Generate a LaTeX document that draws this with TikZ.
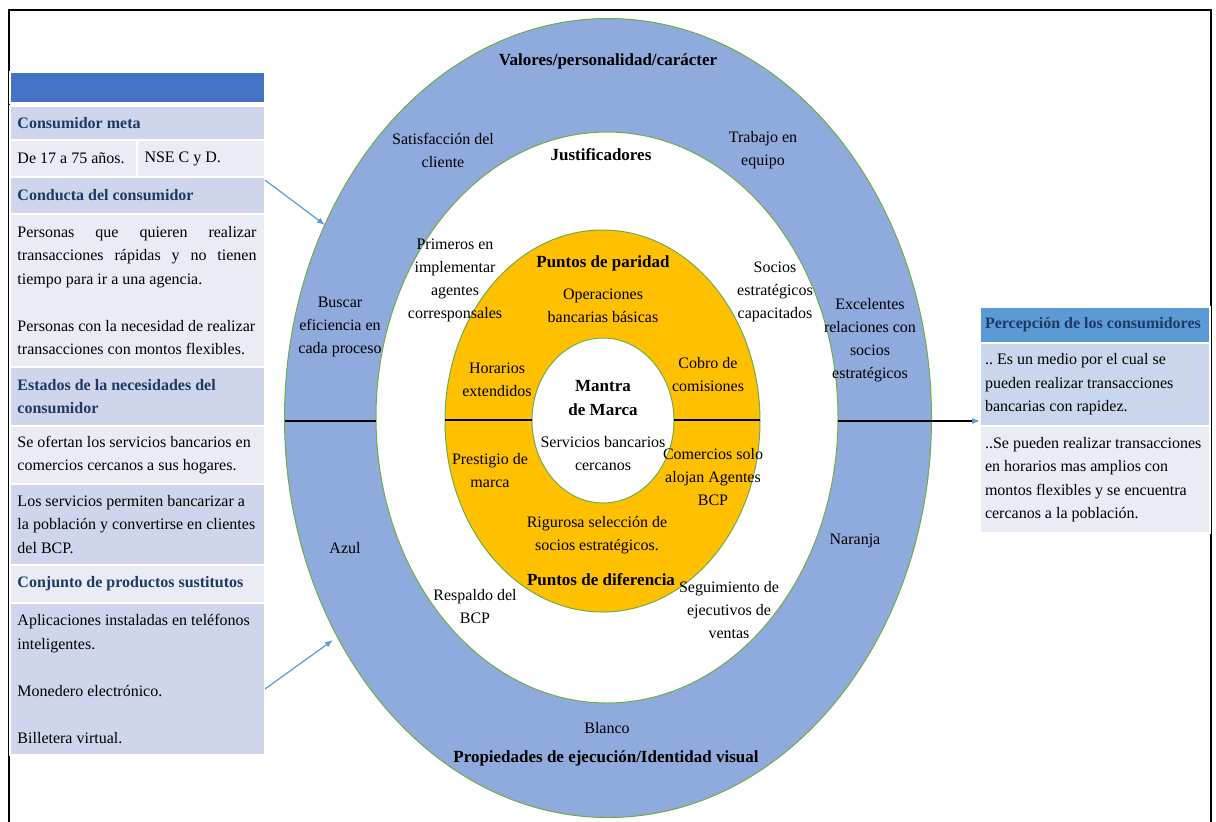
\documentclass[tikz,border=0pt]{standalone}
\usepackage{fontspec}
\setmainfont{Liberation Serif}
\usetikzlibrary{positioning,arrows.meta}
\definecolor{barblue}{HTML}{4472C4}
\definecolor{lavdark}{HTML}{CFD5EA}
\definecolor{lavlight}{HTML}{E9EBF5}
\definecolor{navytext}{HTML}{1F3864}
\definecolor{percblue}{HTML}{5B9BD5}
\definecolor{percpale}{HTML}{CAD6EC}
\definecolor{ringblue}{HTML}{8FAADC}
\definecolor{ringedge}{HTML}{70AD47}
\definecolor{paritygold}{HTML}{FFC000}
\definecolor{linkblue}{HTML}{5B9BD5}
\tikzstyle{panelrow} = [anchor=north west, minimum width=127.5pt, text width=120pt,
  inner xsep=3.75pt, inner ysep=0pt, outer sep=0pt, align=left, draw=white, line width=0.6pt,
  font=\fontsize{8}{11.75}\selectfont,
  execute at begin node={\spaceskip=0pt\xspaceskip=0pt\hyphenpenalty=10000\frenchspacing\relax}]
\tikzstyle{rowdark} = [panelrow, fill=lavdark]
\tikzstyle{rowlight} = [panelrow, fill=lavlight]
\tikzstyle{rowtitle} = [text=navytext, font=\fontsize{8}{11.75}\selectfont\bfseries]
\tikzstyle{percrow} = [panelrow, minimum width=115pt, text width=110pt, inner xsep=2.5pt]
\tikzstyle{ringtext} = [align=center, inner sep=0pt, font=\fontsize{8}{11.5}\selectfont]
\tikzstyle{ringtitle} = [ringtext, font=\fontsize{8.5}{11.75}\selectfont\bfseries]
\tikzstyle{ringline} = [draw=ringedge, line width=0.5pt]
\tikzstyle{linkarrow} = [draw=linkblue, line width=0.6pt, -{Latex[length=4pt,width=3pt]}]
\newcommand{\jline}[1]{\makebox[119.5pt][s]{#1}}

\begin{document}
\begin{tikzpicture}[x=0.5pt,y=-0.5pt]
    \useasboundingbox (0,0) rectangle (1216,821);
    \draw[line width=1pt] (9,830) -- (9,10) -- (1211,10) -- (1211,830);

    % anillos
    \draw[ringline, fill=ringblue] (608,418) ellipse [x radius=161.75pt, y radius=199.75pt];
    \draw[ringline, fill=white] (607,417.5) ellipse [x radius=115.5pt, y radius=142.75pt];
    \draw[ringline, fill=paritygold] (602.5,421) ellipse [x radius=78.75pt, y radius=95.5pt];
    \draw[ringline, fill=white] (603,420.5) ellipse [x radius=35.5pt, y radius=41.25pt];
    \draw[line width=0.6pt] (285,421) -- (376,421);
    \draw[line width=0.6pt] (445,420) -- (532,420);
    \draw[line width=0.6pt] (674,420) -- (760,420);
    \coordinate (midR) at (838,421);
    \coordinate (ringL1) at (325,225);
    \coordinate (ringL2) at (333,640);

    % panel izquierdo
    \node[rowdark, fill=barblue, minimum height=15.5pt] (lhead) at (10,72) {};
    \node[rowdark, rowtitle, minimum height=17pt] (meta) at (10,106) {Consumidor meta};
    \node[rowlight, minimum height=18.5pt, minimum width=63.5pt, text width=56pt,
      below=0pt of meta.south west, anchor=north west] (edad) {\mbox{De 17 a 75 años.}};
    \node[rowlight, minimum height=18.5pt, minimum width=64pt, text width=56.5pt,
      right=0pt of edad] (nse) {NSE C y D.};
    \node[rowdark, rowtitle, minimum height=18.5pt,
      below=0pt of edad.south west, anchor=north west] (conducta) {Conducta del consumidor};
    \node[rowlight, minimum height=76.5pt, below=0pt of conducta] (personas) {%
      \jline{Personas que quieren realizar}\\
      \jline{transacciones rápidas y no tienen}\\
      tiempo para ir a una agencia.\\[11.75pt]
      Personas con la necesidad de realizar\\
      transacciones con montos flexibles.};
    \node[rowdark, rowtitle, minimum height=29.5pt, below=0pt of personas] (estados)
      {Estados de la necesidades del\\consumidor};
    \node[rowlight, minimum height=29pt, below=0pt of estados] (ofertan)
      {Se ofertan los servicios bancarios en\\comercios cercanos a sus hogares.};
    \node[rowdark, minimum height=40.5pt, below=0pt of ofertan] (servicios)
      {Los servicios permiten bancarizar a\\la población y convertirse en clientes\\del BCP.};
    \node[rowlight, rowtitle, minimum height=19pt, below=0pt of servicios] (conjunto)
      {Conjunto de productos sustitutos};
    \node[rowdark, minimum height=76pt, below=0pt of conjunto] (sustitutos) {%
      Aplicaciones instaladas en teléfonos\\
      inteligentes.\\[11.75pt]
      Monedero electrónico.\\[11.75pt]
      Billetera virtual.};

    % panel derecho
    \node[percrow, rowtitle, fill=percblue, minimum height=18pt] (perc) at (980,307)
      {Percepción de los consumidores};
    \node[percrow, fill=percpale, minimum height=41.5pt, below=0pt of perc] (perc1)
      {.. Es un medio por el cual se\\pueden realizar transacciones\\bancarias con rapidez.};
    \node[percrow, fill=lavlight, minimum height=53.5pt, below=0pt of perc1] (perc2)
      {..Se pueden realizar transacciones\\en horarios mas amplios con\\montos flexibles y se encuentra\\cercanos a la población.};

    % textos del circulo
    \node[ringtitle] (valores) at (608,61) {Valores/personalidad/carácter};
    \node[ringtext] (satisf) at (443,150) {Satisfacción del\\cliente};
    \node[ringtitle] (justif) at (601,155) {Justificadores};
    \node[ringtext] (trabajo) at (763,150) {Trabajo en\\equipo};
    \node[ringtext] (primeros) at (455,280) {Primeros en\\implementar\\agentes\\corresponsales};
    \node[ringtitle] (paridad) at (603,263) {Puntos de paridad};
    \node[ringtext] (operac) at (603,306) {Operaciones\\bancarias básicas};
    \node[ringtext] (socios) at (775,292) {Socios\\estratégicos\\capacitados};
    \node[ringtext] (buscar) at (340,327) {Buscar\\eficiencia en\\cada proceso};
    \node[ringtext] (excel) at (870,340) {Excelentes\\relaciones con\\socios\\estratégicos};
    \node[ringtext] (horarios) at (497,380) {Horarios\\extendidos};
    \node[ringtitle] (mantra) at (603,398) {Mantra\\de Marca};
    \node[ringtext] (cobro) at (708,375) {Cobro de\\comisiones};
    \node[ringtext] (cercanos) at (603,454) {Servicios bancarios\\cercanos};
    \node[ringtext] (prestigio) at (490,471) {Prestigio de\\marca};
    \node[ringtext] (comercios) at (713,477) {Comercios solo\\alojan Agentes\\BCP};
    \node[ringtext] (rigurosa) at (597,535) {Rigurosa selección de\\socios estratégicos.};
    \node[ringtitle] (diferencia) at (601,580) {Puntos de diferencia};
    \node[ringtext] (respaldo) at (475,607) {Respaldo del\\BCP};
    \node[ringtext] (seguim) at (729,610) {Seguimiento de\\ejecutivos de\\ventas};
    \node[ringtext] (azul) at (345,548) {Azul};
    \node[ringtext] (naranja) at (855,541) {Naranja};
    \node[ringtext] (blanco) at (607,728) {Blanco};
    \node[ringtitle] (propied) at (606,758) {Propiedades de ejecución/Identidad visual};

    % flechas
    \draw[linkarrow] ([yshift=-1.5pt]conducta.north east) -- (ringL1);
    \draw[linkarrow] ([yshift=-5pt]sustitutos.east) -- (ringL2);
    \draw[line width=0.6pt, -{Latex[length=4pt,width=3pt,color=linkblue]}]
      (midR) -- (perc1.west |- midR);
\end{tikzpicture}
\end{document}
